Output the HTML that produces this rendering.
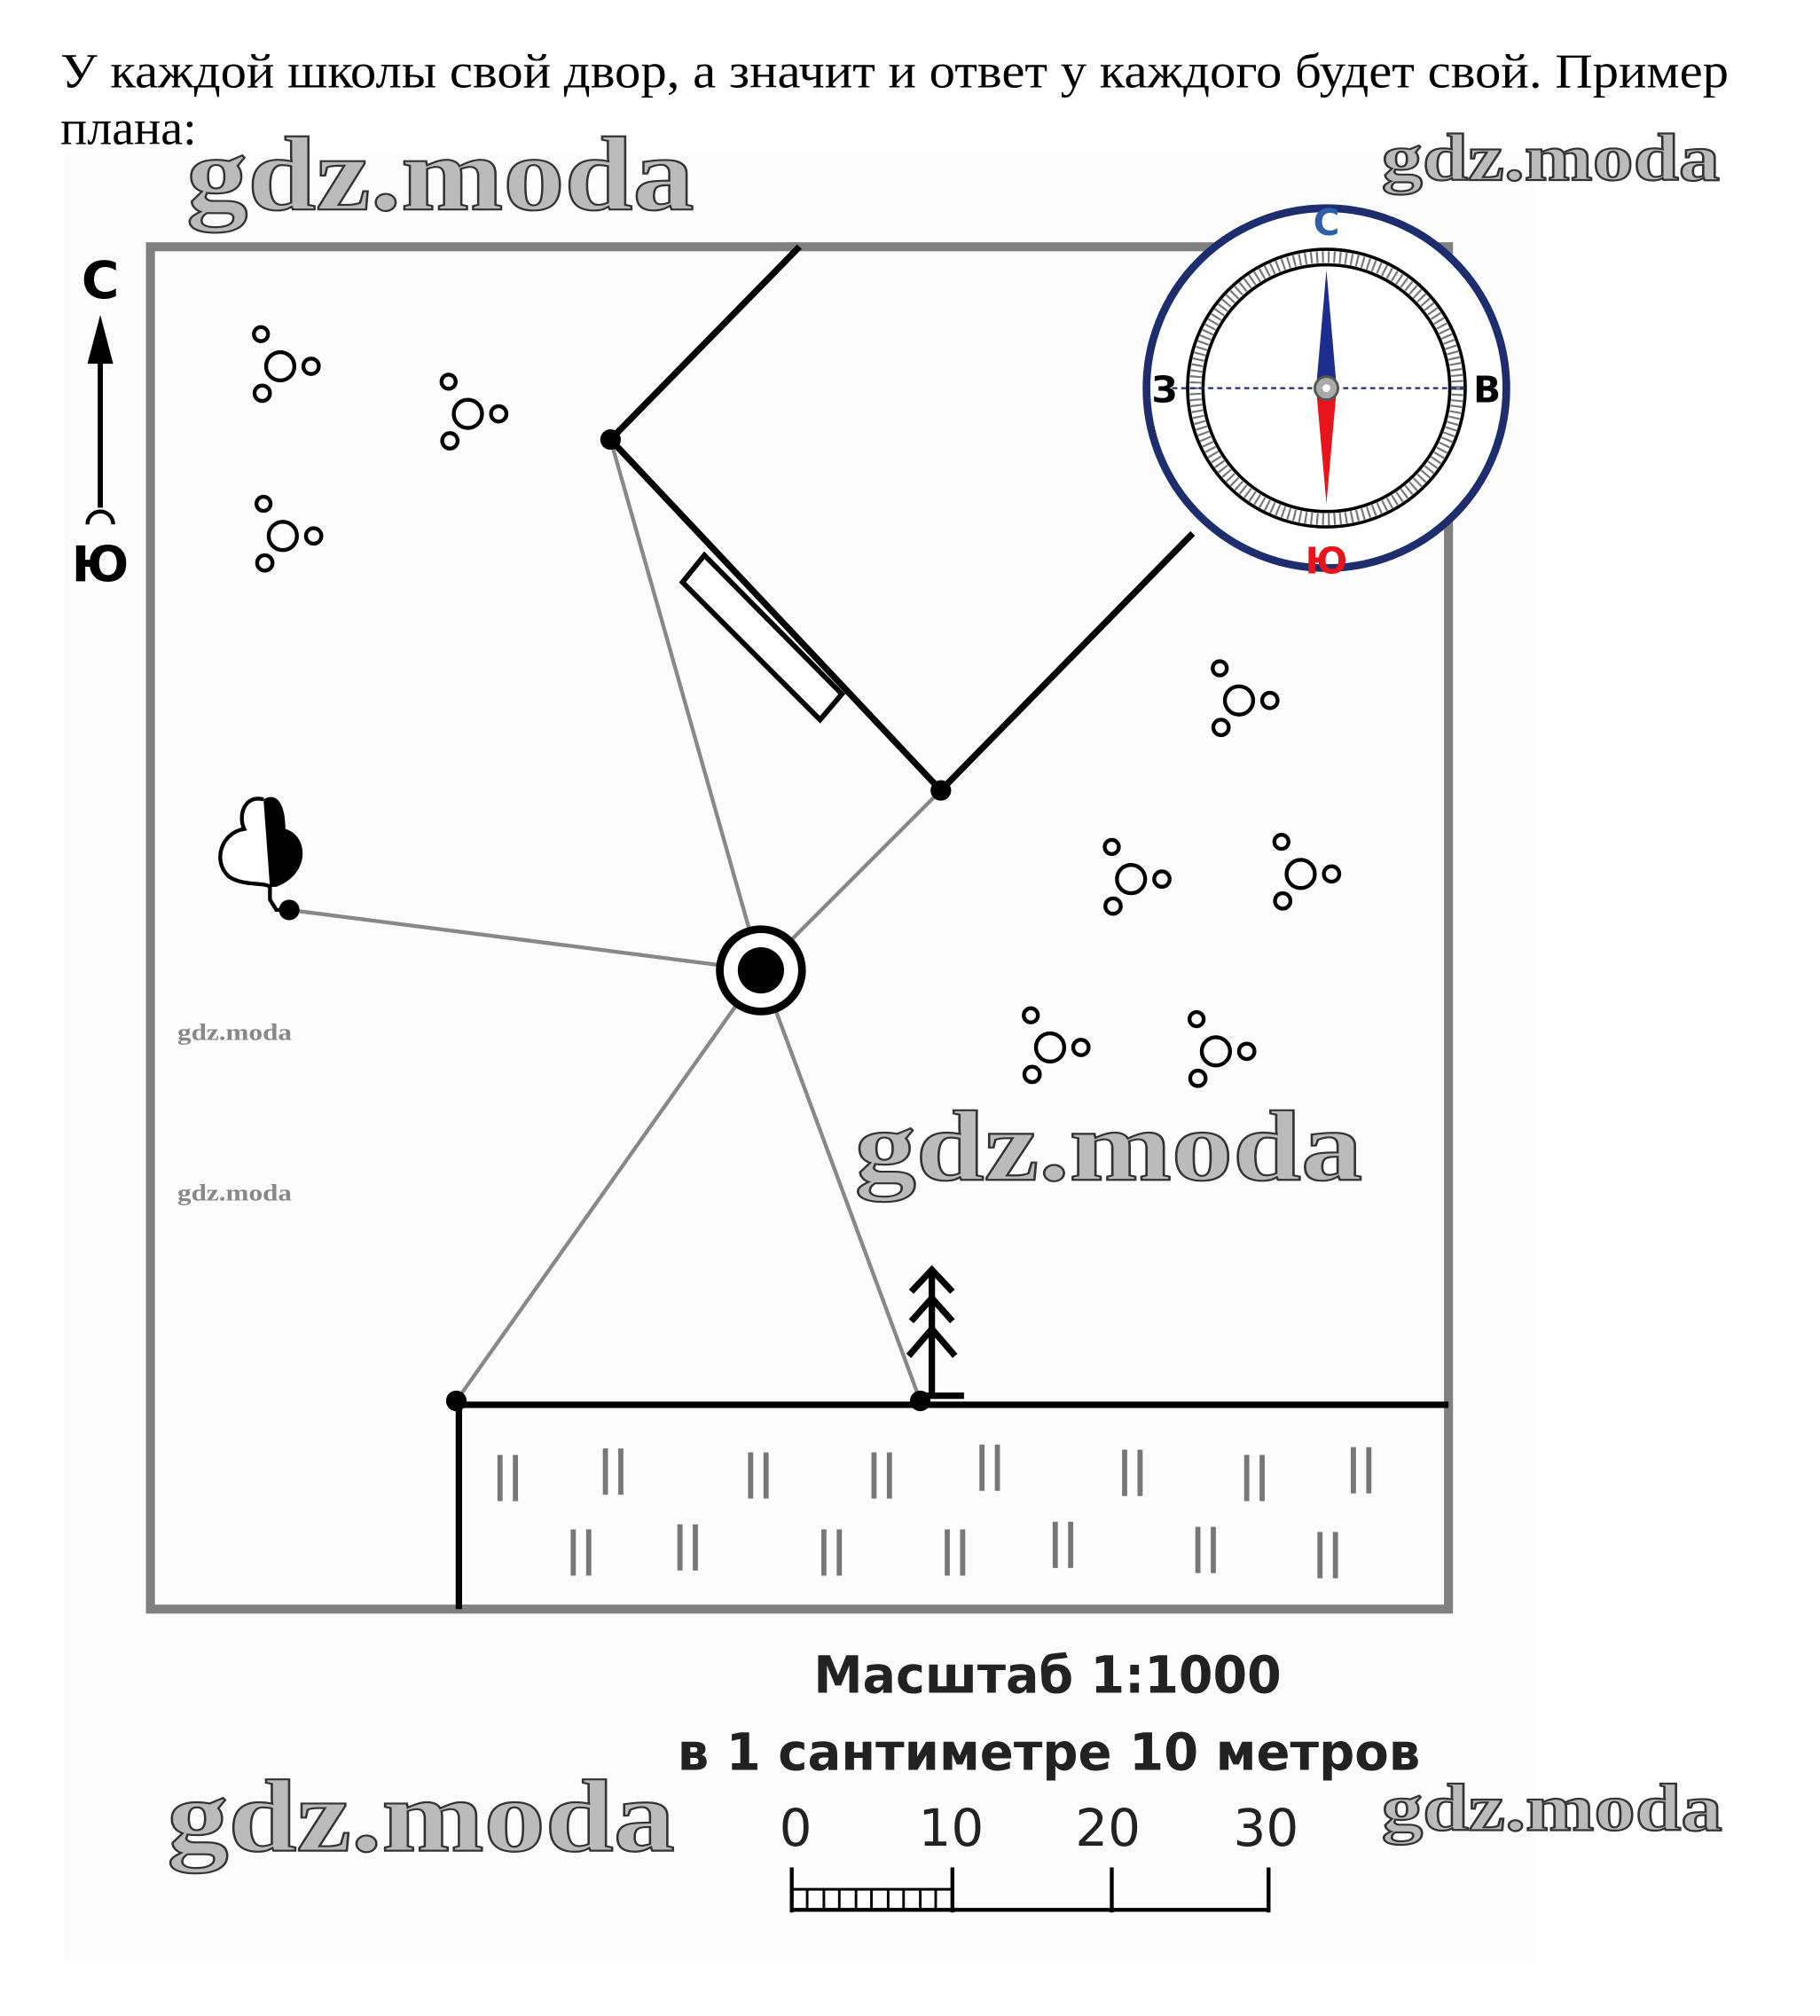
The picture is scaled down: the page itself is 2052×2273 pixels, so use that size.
<!DOCTYPE html>
<html><head><meta charset="utf-8"><style>
html,body{margin:0;padding:0;background:#fff;}
svg{display:block;}
.wm{font-family:"Liberation Serif",serif;font-weight:bold;fill:#bbb;stroke:#333;stroke-width:1.5;}
</style></head><body>
<svg width="2052" height="2273" viewBox="0 0 1416 1568.6" xmlns="http://www.w3.org/2000/svg">
<rect x="50" y="118" width="1145" height="1408" fill="#fcfcfc"/>
<text x="47" y="68" font-family="Liberation Serif, serif" font-size="38" fill="#000" textLength="1298" lengthAdjust="spacingAndGlyphs">У каждой школы свой двор, а значит и ответ у каждого будет свой. Пример</text>
<text x="47" y="112" font-family="Liberation Serif, serif" font-size="38" fill="#000" textLength="106" lengthAdjust="spacingAndGlyphs">плана:</text>
<rect x="117" y="192" width="1010" height="1060" fill="none" stroke="#808080" stroke-width="7"/>
<line x1="78" y1="395" x2="78" y2="280" stroke="#000" stroke-width="4"/>
<polygon points="78,245 68,283 88,283" fill="#000"/>
<text x="78" y="232" text-anchor="middle" font-family="DejaVu Sans, sans-serif" font-weight="bold" font-size="40">С</text>
<path d="M68,408 A10,10 0 0 1 88,408" fill="none" stroke="#000" stroke-width="3"/>
<text x="78" y="452" text-anchor="middle" font-family="DejaVu Sans, sans-serif" font-weight="bold" font-size="38">Ю</text>
<g stroke="#888" stroke-width="3">
<line x1="592" y1="755" x2="475" y2="342"/>
<line x1="592" y1="755" x2="732" y2="615"/>
<line x1="592" y1="755" x2="225" y2="708"/>
<line x1="592" y1="755" x2="355" y2="1090"/>
<line x1="592" y1="755" x2="716" y2="1090"/>
</g>
<polyline points="622,192 475,342 732,615 928,415" fill="none" stroke="#000" stroke-width="5"/>
<circle cx="475" cy="342" r="8"/><circle cx="732" cy="615" r="8"/>
<polygon points="548,432 531,453 638,560 655,540" fill="#fff" stroke="#000" stroke-width="4"/>
<circle cx="592" cy="755" r="32" fill="#fff" stroke="#000" stroke-width="6"/>
<circle cx="592" cy="755" r="18" fill="#000"/>
<path d="M205,622 C190,618 185,635 190,645 C172,648 165,670 178,682 C190,690 205,686 210,690 L210,700 L215,708 L225,708" fill="#fff" stroke="#000" stroke-width="3"/>
<path d="M205,622 C215,616 222,625 222,645 C240,650 242,680 215,690 L210,690 Z" fill="#000"/>
<circle cx="225" cy="708" r="8"/>
<line x1="355" y1="1093" x2="1127" y2="1093" stroke="#000" stroke-width="5"/>
<line x1="357" y1="1093" x2="357" y2="1252" stroke="#000" stroke-width="5"/>
<circle cx="355" cy="1090" r="8"/><circle cx="716" cy="1090" r="8"/>
<g stroke="#000" stroke-width="5" fill="none">
<line x1="725" y1="988" x2="725" y2="1088"/>
<polyline points="709,1005 725,988 741,1005"/>
<polyline points="709,1028 725,1010 741,1028"/>
<polyline points="707,1055 725,1034 743,1055"/>
<line x1="716" y1="1086" x2="750" y2="1086"/>
</g>
<g stroke="#777" stroke-width="4">
<line x1="389" y1="1132" x2="389" y2="1168"/><line x1="401" y1="1132" x2="401" y2="1168"/>
<line x1="471" y1="1127" x2="471" y2="1163"/><line x1="483" y1="1127" x2="483" y2="1163"/>
<line x1="584" y1="1130" x2="584" y2="1166"/><line x1="596" y1="1130" x2="596" y2="1166"/>
<line x1="680" y1="1130" x2="680" y2="1166"/><line x1="692" y1="1130" x2="692" y2="1166"/>
<line x1="764" y1="1124" x2="764" y2="1160"/><line x1="776" y1="1124" x2="776" y2="1160"/>
<line x1="875" y1="1128" x2="875" y2="1164"/><line x1="887" y1="1128" x2="887" y2="1164"/>
<line x1="970" y1="1132" x2="970" y2="1168"/><line x1="982" y1="1132" x2="982" y2="1168"/>
<line x1="1053" y1="1126" x2="1053" y2="1162"/><line x1="1065" y1="1126" x2="1065" y2="1162"/>
<line x1="446" y1="1190" x2="446" y2="1226"/><line x1="458" y1="1190" x2="458" y2="1226"/>
<line x1="529" y1="1186" x2="529" y2="1222"/><line x1="541" y1="1186" x2="541" y2="1222"/>
<line x1="641" y1="1190" x2="641" y2="1226"/><line x1="653" y1="1190" x2="653" y2="1226"/>
<line x1="737" y1="1190" x2="737" y2="1226"/><line x1="749" y1="1190" x2="749" y2="1226"/>
<line x1="821" y1="1184" x2="821" y2="1220"/><line x1="833" y1="1184" x2="833" y2="1220"/>
<line x1="932" y1="1188" x2="932" y2="1224"/><line x1="944" y1="1188" x2="944" y2="1224"/>
<line x1="1027" y1="1192" x2="1027" y2="1228"/><line x1="1039" y1="1192" x2="1039" y2="1228"/>
</g>
<defs>
<g id="b" fill="none" stroke="#000" stroke-width="3">
<circle cx="0" cy="0" r="11"/><circle cx="-15" cy="-25" r="5.5"/><circle cx="24" cy="0" r="6"/><circle cx="-14" cy="21" r="6"/>
</g>
</defs>
<use href="#b" x="218" y="285"/><use href="#b" x="364" y="322"/><use href="#b" x="220" y="417"/>
<use href="#b" x="964" y="545"/><use href="#b" x="880" y="684"/><use href="#b" x="1012" y="680"/>
<use href="#b" x="817" y="815"/><use href="#b" x="946" y="818"/>
<circle cx="1032" cy="302" r="140" fill="#fff" stroke="#1d2d6e" stroke-width="6"/>
<circle cx="1032" cy="302" r="108" fill="none" stroke="#000" stroke-width="2.5"/>
<circle cx="1032" cy="302" r="102" fill="none" stroke="#777" stroke-width="9" stroke-dasharray="1.5 3"/>
<circle cx="1032" cy="302" r="96" fill="none" stroke="#000" stroke-width="2.5"/>
<line x1="912" y1="302" x2="1140" y2="302" stroke="#1d2d6e" stroke-width="1.5" stroke-dasharray="4 3"/>
<polygon points="1032,210 1024,302 1040,302" fill="#1d2d8e"/>
<polygon points="1032,392 1024,302 1040,302" fill="#e8141c"/>
<circle cx="1032" cy="302" r="9" fill="#aaa" stroke="#555" stroke-width="2"/>
<circle cx="1032" cy="302" r="3" fill="#fff"/>
<text x="1032" y="183" text-anchor="middle" font-family="DejaVu Sans, sans-serif" font-weight="bold" font-size="28" fill="#2e5fa8">С</text>
<text x="1032" y="446" text-anchor="middle" font-family="DejaVu Sans, sans-serif" font-weight="bold" font-size="28" fill="#e8141c">Ю</text>
<text x="906" y="313" text-anchor="middle" font-family="DejaVu Sans, sans-serif" font-weight="bold" font-size="28">З</text>
<text x="1157" y="313" text-anchor="middle" font-family="DejaVu Sans, sans-serif" font-weight="bold" font-size="28">В</text>
<text x="633" y="1317" font-family="DejaVu Sans, sans-serif" font-size="40" fill="#222" font-weight="bold" textLength="364" lengthAdjust="spacingAndGlyphs">Масштаб 1:1000</text>
<text x="527" y="1377" font-family="DejaVu Sans, sans-serif" font-size="40" fill="#222" font-weight="bold" textLength="578" lengthAdjust="spacingAndGlyphs">в 1 сантиметре 10 метров</text>
<g font-family="DejaVu Sans, sans-serif" font-size="40" fill="#222" text-anchor="middle">
<text x="619" y="1436">0</text><text x="740" y="1436">10</text><text x="862" y="1436">20</text><text x="985" y="1436">30</text>
</g>
<g stroke="#000" stroke-width="3">
<line x1="615" y1="1486" x2="988" y2="1486"/>
<line x1="616" y1="1453" x2="616" y2="1488"/><line x1="741" y1="1453" x2="741" y2="1488"/>
<line x1="865" y1="1453" x2="865" y2="1488"/><line x1="987" y1="1453" x2="987" y2="1488"/>
<line x1="616" y1="1470" x2="741" y2="1470" stroke-width="2"/>
</g>
<g stroke="#000" stroke-width="2">
<line x1="628" y1="1470" x2="628" y2="1486"/><line x1="641" y1="1470" x2="641" y2="1486"/>
<line x1="653" y1="1470" x2="653" y2="1486"/><line x1="666" y1="1470" x2="666" y2="1486"/>
<line x1="678" y1="1470" x2="678" y2="1486"/><line x1="691" y1="1470" x2="691" y2="1486"/>
<line x1="703" y1="1470" x2="703" y2="1486"/><line x1="716" y1="1470" x2="716" y2="1486"/>
<line x1="728" y1="1470" x2="728" y2="1486"/>
</g>
<text class="wm" x="145" y="163" font-size="82" textLength="395" lengthAdjust="spacingAndGlyphs">gdz.moda</text>
<text class="wm" x="1075" y="140" font-size="52" textLength="263" lengthAdjust="spacingAndGlyphs">gdz.moda</text>
<text class="wm" x="665" y="918" font-size="78" textLength="395" lengthAdjust="spacingAndGlyphs">gdz.moda</text>
<text class="wm" x="130" y="1440" font-size="80" textLength="395" lengthAdjust="spacingAndGlyphs">gdz.moda</text>
<text class="wm" x="1075" y="1424" font-size="52" textLength="265" lengthAdjust="spacingAndGlyphs">gdz.moda</text>
<text x="138" y="809" font-family="Liberation Serif, serif" font-weight="bold" font-size="18" fill="#888" textLength="89" lengthAdjust="spacingAndGlyphs">gdz.moda</text>
<text x="138" y="934" font-family="Liberation Serif, serif" font-weight="bold" font-size="18" fill="#888" textLength="89" lengthAdjust="spacingAndGlyphs">gdz.moda</text>
</svg>
</body></html>
